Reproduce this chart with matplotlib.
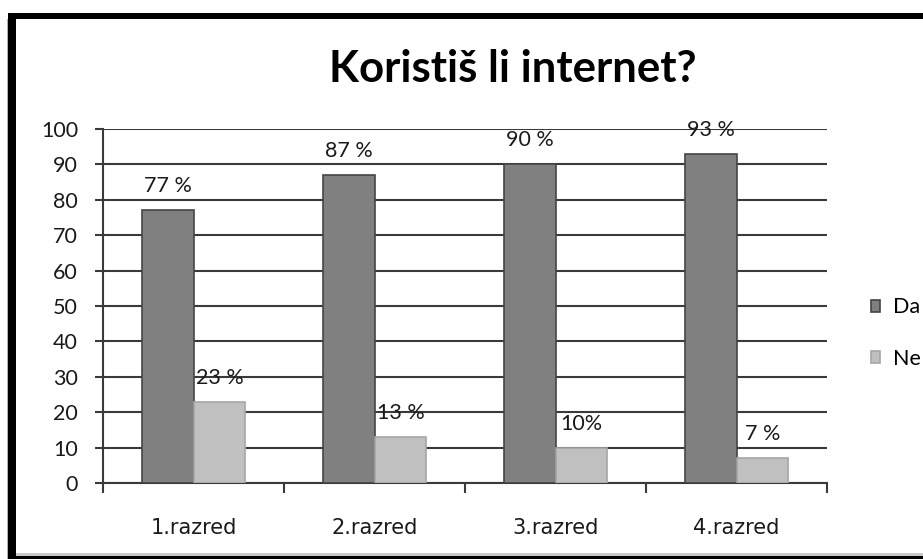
import matplotlib
matplotlib.use("Agg")
import matplotlib.pyplot as plt
from matplotlib.patches import Rectangle, Patch
import numpy as np

categories = ["1.razred", "2.razred", "3.razred", "4.razred"]
series_names = ["Da", "Ne"]
da_values = [77, 87, 90, 93]
ne_values = [23, 13, 10, 7]
da_labels = ["77 %", "87 %", "90 %", "93 %"]
ne_labels = ["23 %", "13 %", "10%", "7 %"]
yticks = [0, 10, 20, 30, 40, 50, 60, 70, 80, 90, 100]
title = "Koristiš li internet?"

plt.rcParams['font.family'] = ['Lato', 'DejaVu Sans']

W, H = 923, 559
fig = plt.figure(figsize=(W / 100, H / 100), dpi=100)
fig.patch.set_facecolor('white')

ax = fig.add_axes([103 / W, 1 - 483 / H, (827 - 103) / W, (483 - 129) / H])

x = np.arange(len(categories))
bw = 0.287
da_col, da_edge = '#808080', '#454545'
ne_col, ne_edge = '#c0c0c0', '#a6a6a6'

ax.set_ylim(0, 100)
ax.set_xlim(-0.5, len(categories) - 0.5)
ax.set_yticks(yticks)
ax.yaxis.grid(True, color='#3a3a3a', linewidth=1.5, zorder=0)
ax.set_axisbelow(True)

b1 = ax.bar(x - bw / 2, da_values, bw, color=da_col, edgecolor=da_edge, linewidth=1.2, zorder=3)
b2 = ax.bar(x + bw / 2, ne_values, bw, color=ne_col, edgecolor=ne_edge, linewidth=1.2, zorder=3)

for rect, lab in zip(b1, da_labels):
    ax.annotate(lab, (rect.get_x() + rect.get_width() / 2, rect.get_height()),
                xytext=(0, 18), textcoords='offset pixels', ha='center', va='baseline',
                fontsize=15.5, color='#1a1a1a', zorder=5)
for rect, lab in zip(b2, ne_labels):
    ax.annotate(lab, (rect.get_x() + rect.get_width() / 2, rect.get_height()),
                xytext=(0, 18), textcoords='offset pixels', ha='center', va='baseline',
                fontsize=15.5, color='#1a1a1a', zorder=5)

for s in ['top', 'right']:
    ax.spines[s].set_visible(False)
for s in ['left', 'bottom']:
    ax.spines[s].set_color('#3a3a3a')
    ax.spines[s].set_linewidth(1.5)

ax.tick_params(axis='y', length=6, width=1.5, color='#3a3a3a', labelsize=15.5, pad=12, labelcolor='#1a1a1a')
ax.set_xticks(np.arange(-0.5, len(categories), 1.0))
ax.set_xticklabels([])
ax.set_xticks(x, minor=True)
ax.set_xticklabels(categories, minor=True, family=['DejaVu Sans'])
ax.tick_params(axis='x', which='major', length=7, width=1.5, color='#3a3a3a', direction='out')
ax.tick_params(axis='x', which='minor', length=0, labelsize=15, pad=25, labelcolor='#1a1a1a')

fig.text(513 / W, 1 - 82 / H, title, ha='center', va='baseline', fontsize=31.5,
         fontweight='bold', color='black')

handles = [Patch(facecolor=da_col, edgecolor=da_edge, linewidth=1.2),
           Patch(facecolor=ne_col, edgecolor=ne_edge, linewidth=1.2)]
fig.legend(handles, series_names, loc='center left', bbox_to_anchor=(862 / W, 1 - 333 / H),
           frameon=False, fontsize=15.5, handlelength=0.45, handleheight=0.45,
           handletextpad=0.6, labelspacing=1.45, borderaxespad=0)

# border
fig.patches.append(Rectangle((7 / W, 0), 1 / W, (H - 19) / H, transform=fig.transFigure,
                             facecolor='#b0b0b0', edgecolor='none', zorder=9))
fig.patches.append(Rectangle((8 / W, 1 - 19 / H), 1, 6 / H, transform=fig.transFigure,
                             facecolor='black', edgecolor='none', zorder=10))
fig.patches.append(Rectangle((8 / W, 0), 8 / W, (H - 13) / H, transform=fig.transFigure,
                             facecolor='black', edgecolor='none', zorder=10))
fig.patches.append(Rectangle((16 / W, 3 / H), 1, 3 / H, transform=fig.transFigure,
                             facecolor='#c8c8c8', edgecolor='none', zorder=10))
fig.patches.append(Rectangle((8 / W, 0), 1, 3 / H, transform=fig.transFigure,
                             facecolor='black', edgecolor='none', zorder=10))

fig.savefig('out.png', dpi=100)
